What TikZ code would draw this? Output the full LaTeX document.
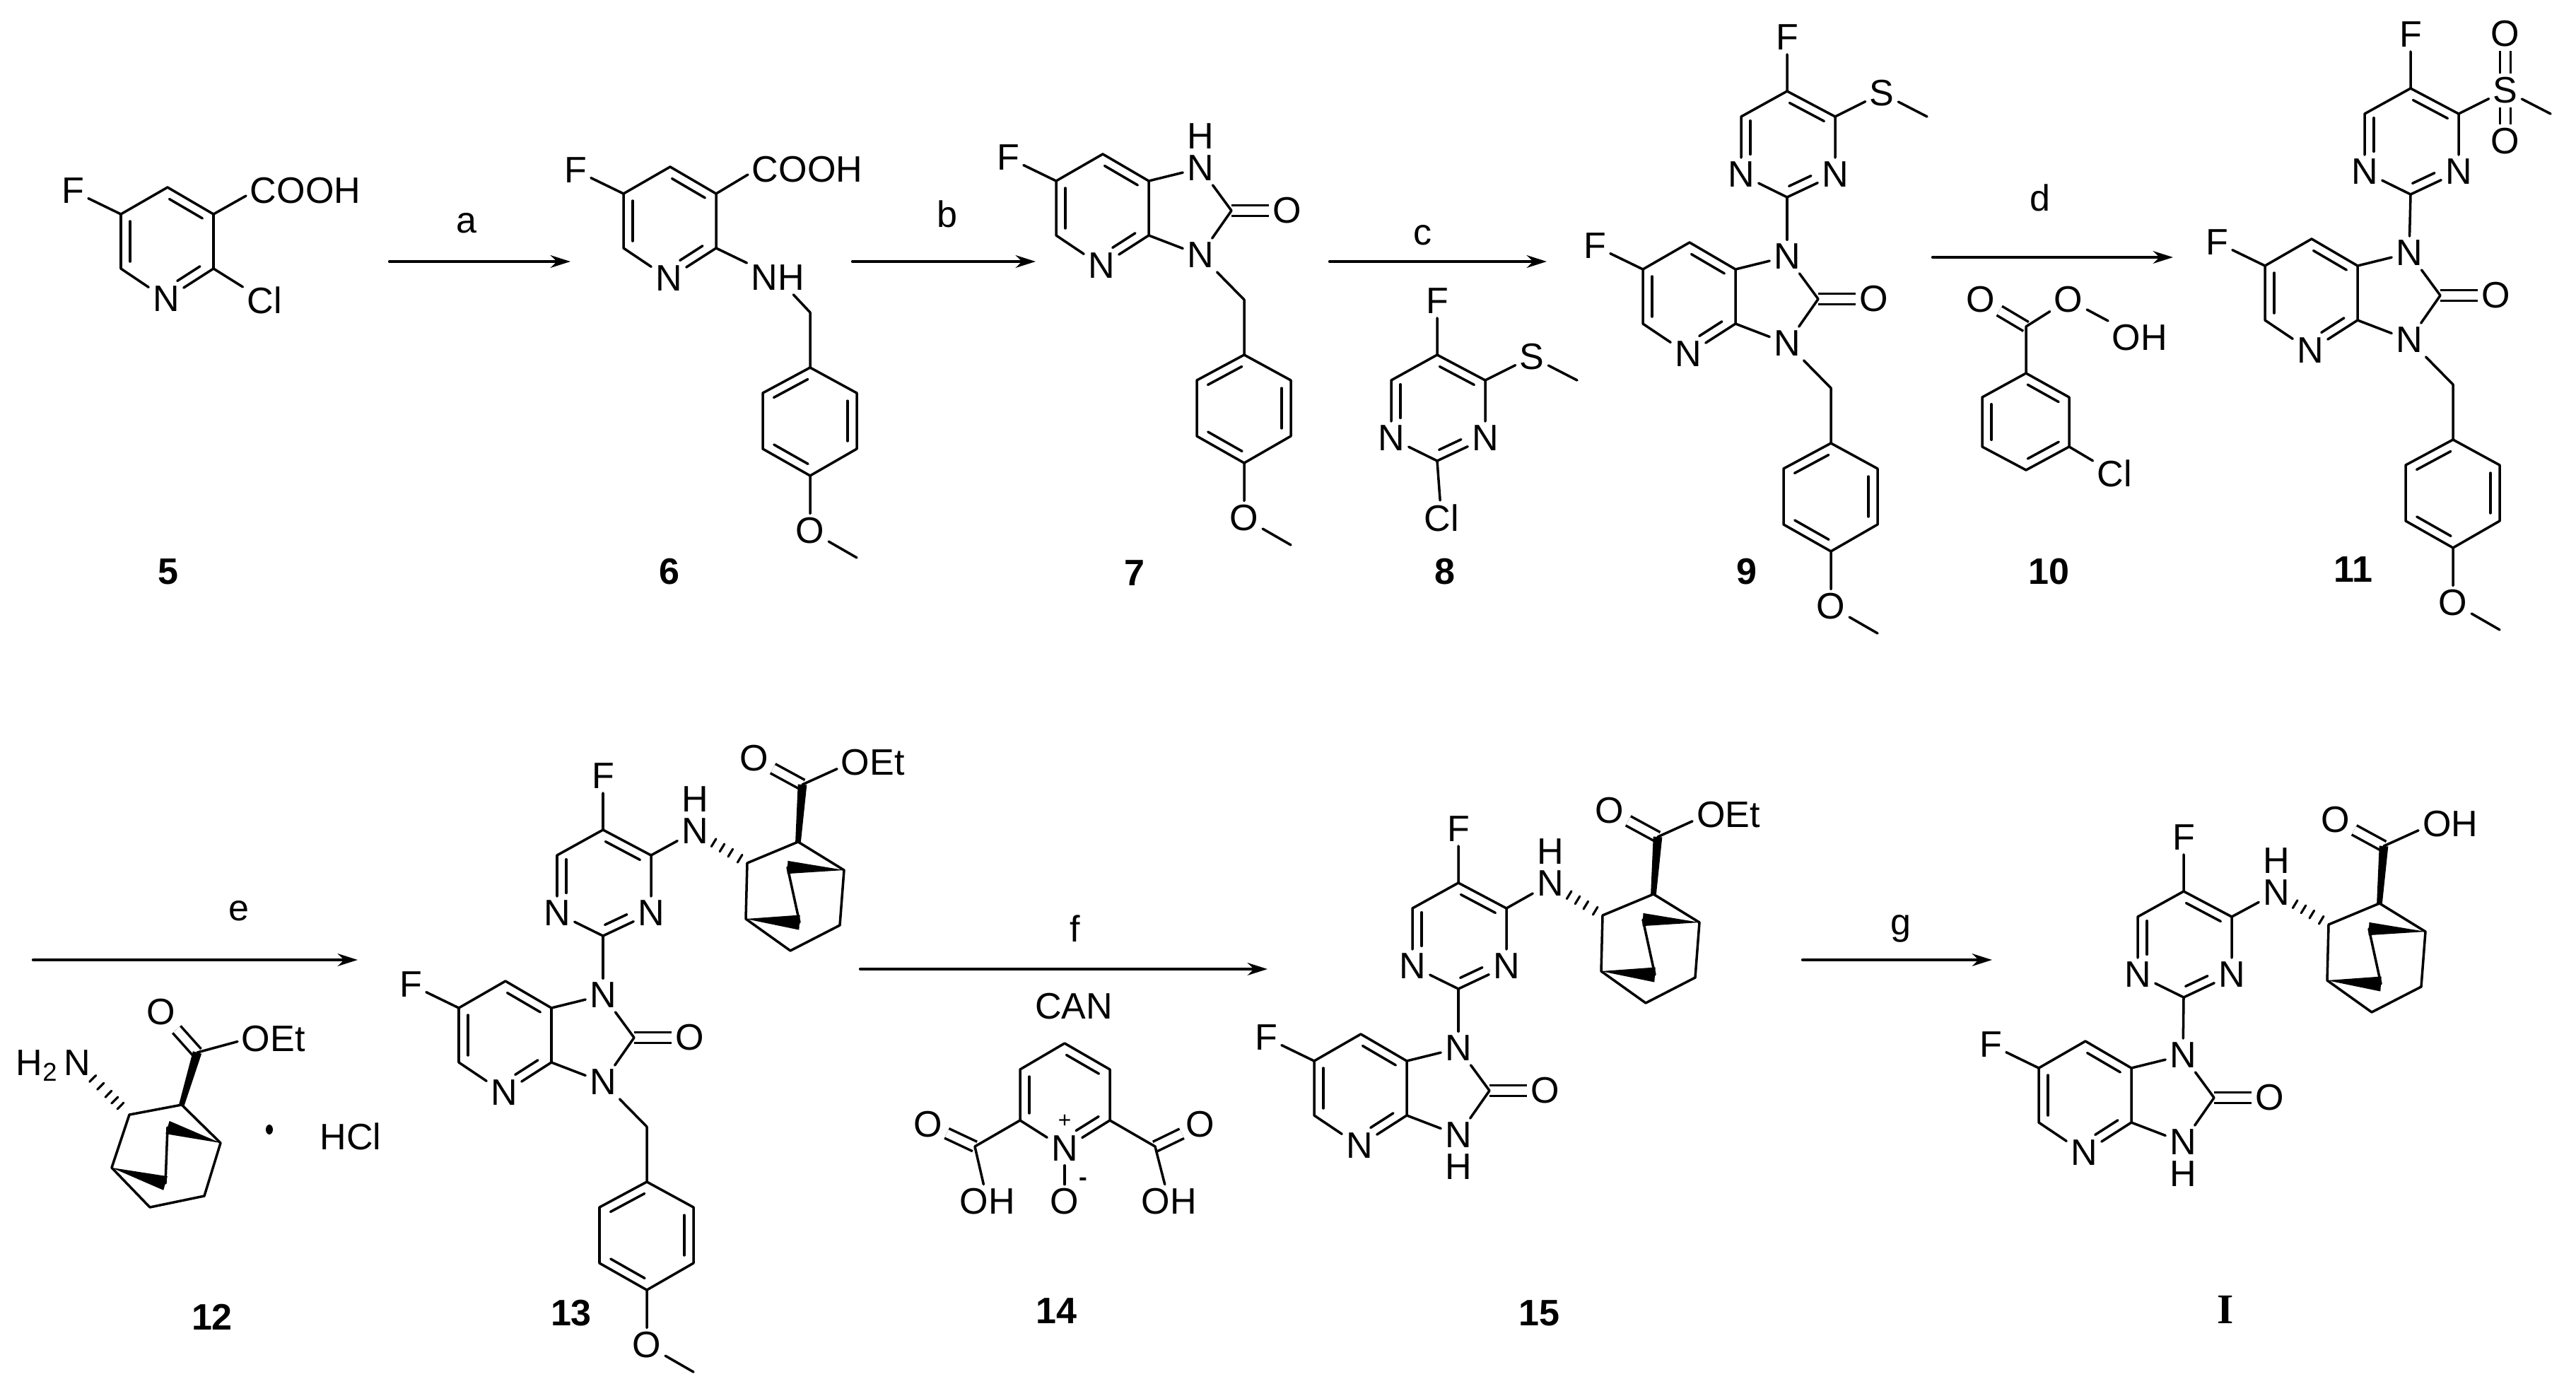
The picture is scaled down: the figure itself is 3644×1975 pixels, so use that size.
\documentclass[tikz,border=0pt]{standalone}
\usepackage{fontspec}
\setmainfont{Liberation Sans}
\newfontfamily\romanface{Liberation Serif}
\usetikzlibrary{calc,arrows.meta}
% inner line of a ring double bond, a to b counter-clockwise
\newcommand\inbond[4]{\draw ($(#1)!#3!(#2)!3.7pt!90:(#2)$) -- ($(#2)!#4!(#1)!-3.7pt!90:(#1)$);}
\newcommand\wedgebond[3]{\fill ($(#2)!#3!90:(#1)$) -- (#1) -- ($(#2)!#3!-90:(#1)$) -- cycle;}
\newcommand\boldbond[2]{\fill ($(#1)!1.1pt!90:(#2)$) -- ($(#1)!1.1pt!-90:(#2)$) -- ($(#2)!1.8pt!90:(#1)$) -- ($(#2)!1.8pt!-90:(#1)$) -- cycle;}
\newcommand\hashbond[3]{\foreach \hs in {#3} {\draw[line width=.9pt] ($(#1)!\hs!(#2)!1.8pt!90:(#2)$) -- ($(#1)!\hs!(#2)!1.8pt!-90:(#2)$);}}
\tikzset{
  every node/.style={font=\fontsize{14.8}{18}\selectfont},
  atom/.style={inner sep=1.2pt},
  steplab/.style={inner sep=0pt},
  cmpd/.style={inner sep=0pt,font=\fontsize{14.8}{18}\selectfont\bfseries},
  dblbond/.style={double,double distance=3.2pt,line cap=butt},
  rxn/.style={line width=1.2pt,-{Stealth[length=8pt,width=5pt,inset=2.5pt]}},
  pics/pyrid/.style={code={
    \coordinate (Cr) at (0,0);
    \coordinate (Ct) at (-65,-38);
    \coordinate (Cf) at (-131,0);
    \coordinate (Cd) at (-131,77);
    \coordinate (Cb) at (0,77);
    \node[atom] (F) at (-199,-33) {F};
    \node[atom] (Np) at (-67,120) {N};
    \draw (F) -- (Cf) -- (Ct) -- (Cr) -- (Cb) -- (Np) -- (Cd) -- (Cf);
    \inbond{Cf}{Cd}{.13}{.13}
    \inbond{Np}{Cb}{.34}{.18}
    \inbond{Cr}{Ct}{.14}{.14}
  }},
  pics/core/.style={code={
    \pic {pyrid};
    \coordinate (C2) at (117,42);
    \node[atom] (N1) at (73,-18) {N};
    \node[atom] (N3) at (73,105) {N};
    \node[atom] (O) at (196,42) {O};
    \draw[dblbond] (C2) -- (O);
    \draw (Cr) -- (N1) -- (C2) -- (N3) -- (Cb);
  }},
  pics/pmb/.style={code={
    \coordinate (CH2) at (0,0);
    \coordinate (Ct) at (0,78);
    \coordinate (Cur) at (66,114);
    \coordinate (Clr) at (66,193);
    \coordinate (Cb) at (0,231);
    \coordinate (Cll) at (-67,193);
    \coordinate (Cul) at (-67,114);
    \coordinate (Me) at (66,347);
    \node[atom] (O) at (0,309) {O};
    \draw (CH2) -- (Ct) -- (Cur) -- (Clr) -- (Cb) -- (Cll) -- (Cul) -- (Ct);
    \draw (Cb) -- (O) -- (Me);
    \inbond{Ct}{Cul}{.14}{.14}
    \inbond{Cll}{Cb}{.14}{.14}
    \inbond{Clr}{Cur}{.14}{.14}
  }},
  pics/pyrim/.style={code={
    \coordinate (C2) at (0,0);
    \coordinate (C5) at (0,-150);
    \coordinate (C4) at (68,-114);
    \coordinate (C6) at (-65,-114);
    \node[atom] (F) at (0,-226) {F};
    \node[atom] (N3) at (68,-32) {N};
    \node[atom] (N1) at (-65,-32) {N};
    \draw (F) -- (C5) -- (C4) -- (N3) -- (C2) -- (N1) -- (C6) -- (C5);
    \inbond{C6}{N1}{.07}{.35}
    \inbond{C2}{N3}{.12}{.42}
    \inbond{C4}{C5}{.14}{.14}
  }},
  pics/thio/.style={code={
    \pic {pyrim};
    \coordinate (Me) at (198,-114);
    \node[atom] (S) at (134,-147) {S};
    \draw (C4) -- (S) -- (Me);
  }},
  pics/sulfone/.style={code={
    \pic {thio};
    \node[atom] (Oa) at (134,-227) {O};
    \node[atom] (Ob) at (134,-75) {O};
    \draw[dblbond] (S) -- (Oa);
    \draw[dblbond] (S) -- (Ob);
  }},
  pics/bicyc/.style={code={
    \coordinate (C1) at (0,0);
    \coordinate (Cs) at (-72,30);
    \coordinate (Ctr) at (65,40);
    \coordinate (Cbr) at (59,118);
    \coordinate (Cbt) at (-11,154);
    \coordinate (Cbl) at (-74,109);
    \coordinate (Wa) at (-15,36);
    \coordinate (Wb) at (2,114);
    \coordinate (Cc) at (6,-81);
    \node[atom] (N) at (-146,-15) {N};
    \node[atom] (H) at (-146,-60) {H};
    \node[atom] (O) at (-62,-118) {O};
    \node[atom,anchor=west] (R) at (55,-112) {#1};
    \draw[dblbond] (Cc) -- (O);
    \draw (Cc) -- ([yshift=-2.5pt]R.west);
    \boldbond{C1}{Cc}
    \draw (C1) -- (Ctr) -- (Cbr) -- (Cbt) -- (Cbl) -- (Cs) -- (C1);
    \draw (Wa) -- (Wb);
    \wedgebond{Ctr}{Wa}{2.6pt}
    \wedgebond{Cbl}{Wb}{3pt}
    \hashbond{N}{Cs}{.36,.52,.68,.86}
  }}
}
\begin{document}
\begin{tikzpicture}[x=0.01cm,y=-0.01cm,line width=1pt,line cap=round,line join=round]
  \useasboundingbox (0,0) rectangle (3644,1975);

  % 5
  \pic (r5-) at (302,303) {pyrid};
  \node[atom,anchor=west] (cooh5) at (348,270) {COOH};
  \node[atom] (cl5) at (374,425) {Cl};
  \draw (r5-Cr) -- ([yshift=-2pt]cooh5.west);
  \draw (r5-Cb) -- (cl5);
  \node[cmpd] (lab5) at (238,809) {5};

  % a
  \coordinate (a1) at (551,370);
  \coordinate (a2) at (807,370);
  \draw[rxn] (a1) -- (a2);
  \node[steplab] (laba) at (660,316) {a};

  % 6
  \pic (r6-) at (1013,274) {pyrid};
  \node[atom,anchor=west] (cooh6) at (1058,240) {COOH};
  \node[atom] (nh6) at (1100,393) {NH};
  \pic (m6-) at (1146,442) {pmb};
  \draw (r6-Cr) -- ([yshift=-2pt]cooh6.west);
  \draw (r6-Cb) -- (nh6) -- (m6-CH2);
  \node[cmpd] (lab6) at (947,809) {6};

  % b
  \coordinate (b1) at (1206,370);
  \coordinate (b2) at (1465,370);
  \draw[rxn] (b1) -- (b2);
  \node[steplab] (labb) at (1340,303) {b};

  % 7
  \pic (c7-) at (1625,256) {core};
  \node[atom] (h7) at (1698,193) {H};
  \pic (m7-) at (1760,424) {pmb};
  \draw (c7-N3) -- (m7-CH2);
  \node[cmpd] (lab7) at (1605,811) {7};

  % c
  \coordinate (c1) at (1881,370);
  \coordinate (c2) at (2188,370);
  \draw[rxn] (c1) -- (c2);
  \node[steplab] (labc) at (2012,333) {c};

  % 8
  \pic (p8-) at (2033,652) {thio};
  \node[atom] (cl8) at (2039,733) {Cl};
  \draw (p8-C2) -- (cl8);
  \node[cmpd] (lab8) at (2044,809) {8};

  % 9
  \pic (p9-) at (2528,279) {thio};
  \pic (c9-) at (2455,381) {core};
  \pic (m9-) at (2590,549) {pmb};
  \draw (p9-C2) -- (c9-N1);
  \draw (c9-N3) -- (m9-CH2);
  \node[cmpd] (lab9) at (2471,809) {9};

  % d
  \coordinate (d1) at (2734,364);
  \coordinate (d2) at (3074,364);
  \draw[rxn] (d1) -- (d2);
  \node[steplab] (labd) at (2886,280) {d};

  % 10
  \coordinate (k10) at (2866,462);
  \coordinate (t10) at (2866,528);
  \coordinate (ur10) at (2927,562);
  \coordinate (lr10) at (2927,632);
  \coordinate (b10) at (2866,665);
  \coordinate (ll10) at (2804,632);
  \coordinate (ul10) at (2804,562);
  \node[atom] (oa10) at (2802,424) {O};
  \node[atom] (ob10) at (2926,424) {O};
  \node[atom] (oh10) at (3027,478) {OH};
  \node[atom] (cl10) at (2991,670) {Cl};
  \draw[dblbond] (k10) -- (oa10);
  \draw (oh10) -- (ob10) -- (k10) -- (t10) -- (ur10) -- (lr10) -- (b10) -- (ll10) -- (ul10) -- (t10);
  \draw (lr10) -- (cl10);
  \inbond{ur10}{t10}{.14}{.14}
  \inbond{ul10}{ll10}{.14}{.14}
  \inbond{b10}{lr10}{.14}{.14}
  \node[cmpd] (lab10) at (2898,809) {10};

  % 11
  \pic (p11-) at (3410,275) {sulfone};
  \pic (c11-) at (3335,376) {core};
  \pic (m11-) at (3470,544) {pmb};
  \draw (p11-C2) -- (c11-N1);
  \draw (c11-N3) -- (m11-CH2);
  \node[cmpd] (lab11) at (3329,806) {11};

  % e
  \coordinate (e1) at (47,1358);
  \coordinate (e2) at (506,1358);
  \draw[rxn] (e1) -- (e2);
  \node[steplab] (labe) at (338,1289) {e};

  % 12
  \coordinate (c12) at (257,1563);
  \coordinate (s12) at (183,1577);
  \coordinate (tr12) at (312,1617);
  \coordinate (br12) at (289,1692);
  \coordinate (bt12) at (212,1708);
  \coordinate (bl12) at (158,1652);
  \coordinate (wa12) at (237,1595);
  \coordinate (wb12) at (234,1674);
  \coordinate (k12) at (279,1489);
  \node[atom] (n12) at (109,1504) {N};
  \node[atom,anchor=base east,inner xsep=0pt] (h12) at (n12.base west) {H\textsubscript{2}};
  \node[atom] (o12) at (228,1432) {O};
  \node[atom,anchor=west] (oet12) at (336,1470) {OEt};
  \draw[dblbond] (k12) -- (o12);
  \draw (k12) -- ([yshift=-1pt]oet12.west);
  \boldbond{c12}{k12}
  \draw (c12) -- (tr12) -- (br12) -- (bt12) -- (bl12) -- (s12) -- (c12);
  \draw (wa12) -- (wb12);
  \wedgebond{tr12}{wa12}{2.7pt}
  \wedgebond{bl12}{wb12}{2.9pt}
  \hashbond{n12}{s12}{.30,.45,.60,.72,.83}
  \fill (381,1598) ellipse (5 and 7);
  \node[atom] (hcl12) at (496,1608) {HCl};
  \node[cmpd] (lab12) at (300,1863) {12};

  % 13
  \pic (p13-) at (853,1324) {pyrim};
  \pic (b13-) at (1129,1191) {bicyc=OEt};
  \pic (c13-) at (780,1426) {core};
  \pic (m13-) at (915,1594) {pmb};
  \draw (p13-C4) -- (b13-N);
  \draw (p13-C2) -- (c13-N1);
  \draw (c13-N3) -- (m13-CH2);
  \node[cmpd] (lab13) at (808,1858) {13};

  % f
  \coordinate (f1) at (1217,1371);
  \coordinate (f2) at (1793,1371);
  \draw[rxn] (f1) -- (f2);
  \node[steplab] (labf) at (1521,1314) {f};
  \node[steplab] (can) at (1519,1424) {CAN};

  % 14
  \coordinate (t14) at (1506,1476);
  \coordinate (ur14) at (1570,1513);
  \coordinate (lr14) at (1570,1585);
  \coordinate (ll14) at (1443,1585);
  \coordinate (ul14) at (1443,1513);
  \coordinate (ka14) at (1379,1622);
  \coordinate (kb14) at (1634,1622);
  \node[atom] (n14) at (1506,1625) {N};
  \node[atom] (o14) at (1506,1700) {O};
  \node[inner sep=0pt,font=\fontsize{9}{10}\selectfont] (plus14) at (1506,1586) {+};
  \node[inner sep=0pt,font=\fontsize{10}{10}\selectfont\bfseries] (minus14) at (1532,1672) {-};
  \node[atom] (oa14) at (1313,1591) {O};
  \node[atom] (oha14) at (1397,1700) {OH};
  \node[atom] (ob14) at (1698,1591) {O};
  \node[atom] (ohb14) at (1654,1700) {OH};
  \draw[dblbond] (ka14) -- (oa14);
  \draw[dblbond] (kb14) -- (ob14);
  \draw (t14) -- (ur14) -- (lr14) -- (n14) -- (ll14) -- (ul14) -- (t14);
  \draw (n14) -- (o14);
  \draw (ll14) -- (ka14) -- (oha14);
  \draw (lr14) -- (kb14) -- (ohb14);
  \inbond{ur14}{t14}{.14}{.14}
  \inbond{ul14}{ll14}{.14}{.14}
  \inbond{n14}{lr14}{.36}{.14}
  \node[cmpd] (lab14) at (1494,1855) {14};

  % 15
  \pic (p15-) at (2063,1399) {pyrim};
  \pic (b15-) at (2339,1265) {bicyc=OEt};
  \pic (c15-) at (1990,1501) {core};
  \node[atom] (h15) at (2063,1651) {H};
  \draw (p15-C4) -- (b15-N);
  \draw (p15-C2) -- (c15-N1);
  \node[cmpd] (lab15) at (2177,1858) {15};

  % g
  \coordinate (g1) at (2550,1358);
  \coordinate (g2) at (2818,1358);
  \draw[rxn] (g1) -- (g2);
  \node[steplab] (labg) at (2689,1314) {g};

  % I
  \pic (pI-) at (3089,1411) {pyrim};
  \pic (bI-) at (3366,1278) {bicyc=OH};
  \pic (cI-) at (3015,1511) {core};
  \node[atom] (hI) at (3088,1661) {H};
  \draw (pI-C4) -- (bI-N);
  \draw (pI-C2) -- (cI-N1);
  \node[inner sep=0pt,font=\romanface\fontsize{17}{20}\selectfont\bfseries] (labI) at (3148,1853) {I};
\end{tikzpicture}
\end{document}
